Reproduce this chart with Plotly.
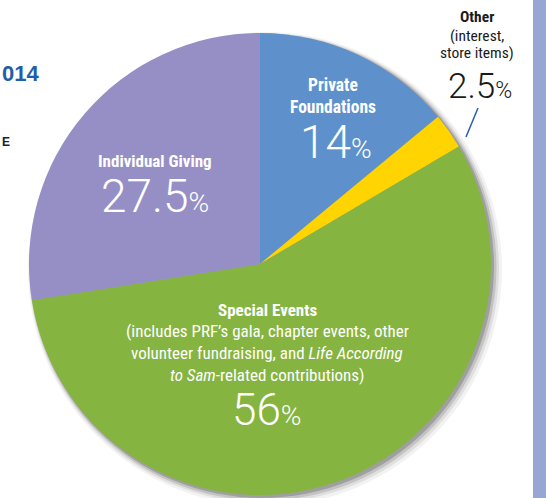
import plotly.graph_objects as go

# ---- data ----
categories = ["Private Foundations", "Other", "Special Events", "Individual Giving"]
values = [14, 2.5, 56, 27.5]
colors = ["#5e91cc", "#ffd400", "#86b440", "#968fc5"]

W, H = 546, 498
CX, CY, R = 260, 264, 231


def px(x):
    return x / W


def py(y):
    return 1 - y / H


NARROW = "Liberation Sans Narrow, Arial Narrow, Roboto Condensed, sans-serif"
THIN = "Roboto, Helvetica, Arial, sans-serif"

fig = go.Figure()
fig.add_trace(go.Pie(
    labels=categories,
    values=values,
    sort=False,
    direction="clockwise",
    rotation=0,
    marker=dict(colors=colors, line=dict(width=0)),
    textinfo="none",
    hoverinfo="skip",
    showlegend=False,
    domain=dict(x=[px(CX - R), px(CX + R)], y=[py(CY + R), py(CY - R)]),
))

shapes = []
# soft drop shadow (lower right)
for dr, off, op in [(6, 5, 0.05), (4, 4, 0.08), (2.5, 3, 0.12), (1, 2, 0.18)]:
    shapes.append(dict(type="circle", xref="paper", yref="paper", layer="below",
                       x0=px(CX - R - dr + off), x1=px(CX + R + dr + off),
                       y0=py(CY + R + dr + off), y1=py(CY - R - dr + off),
                       fillcolor=f"rgba(0,0,0,{op})", line=dict(width=0)))
# right-hand side bar
shapes.append(dict(type="rect", xref="paper", yref="paper", layer="below",
                   x0=px(533), x1=1.0, y0=0, y1=1,
                   fillcolor="#98a6d4", line=dict(width=0)))
# leader line for "Other"
shapes.append(dict(type="line", xref="paper", yref="paper",
                   x0=px(478), y0=py(108), x1=px(466), y1=py(137),
                   line=dict(color="#2b5daa", width=1.5)))

ann = []


def text(x, y, s, size, color, family=NARROW, weight=400, xanchor="center"):
    ann.append(dict(x=px(x), y=py(y), xref="paper", yref="paper", text=s,
                    showarrow=False, xanchor=xanchor, yanchor="middle",
                    font=dict(family=family, size=size, color=color, weight=weight)))


def pct(v, small):
    return f"{v:g}<span style='font-size:{small}px'>%</span>"


# heading fragments visible on the left edge
text(0, 73, "014", 22, "#1f5ea8", family="Liberation Sans, Arial, sans-serif", weight=700, xanchor="left")
text(0, 142, "E", 12, "#222222", family="Liberation Sans, Arial, sans-serif", weight=700, xanchor="left")

# Private Foundations
text(333, 85, "Private", 17.5, "white", weight=700)
text(333, 107, "Foundations", 17.5, "white", weight=700)
text(336, 142, pct(values[0], 28), 46, "white", family=THIN, weight=300)

# Other
text(477, 17, "Other", 15.5, "#1a1a1a", weight=700)
text(477, 36, "(interest,", 15.5, "#1a1a1a")
text(477, 53, "store items)", 15.5, "#1a1a1a")
text(480, 86, pct(values[1], 23), 35, "#1a1a1a", family=THIN, weight=300)

# Individual Giving
text(155, 161, "Individual Giving", 17, "white", weight=700)
text(155, 196, pct(values[3], 28), 46, "white", family=THIN, weight=300)

# Special Events
text(267, 310, "Special Events", 17, "white", weight=700)
text(267, 331, "(includes PRF’s gala, chapter events, other", 17, "white")
text(267, 353, "volunteer fundraising, and <i>Life According</i>", 17, "white")
text(267, 375, "<i>to Sam</i>-related contributions)", 17, "white")
text(267, 410, pct(values[2], 28), 44, "white", family=THIN, weight=300)

fig.update_layout(
    width=W, height=H,
    margin=dict(l=0, r=0, t=0, b=0),
    paper_bgcolor="white",
    plot_bgcolor="white",
    shapes=shapes,
    annotations=ann,
)

fig.write_html("out.html")
